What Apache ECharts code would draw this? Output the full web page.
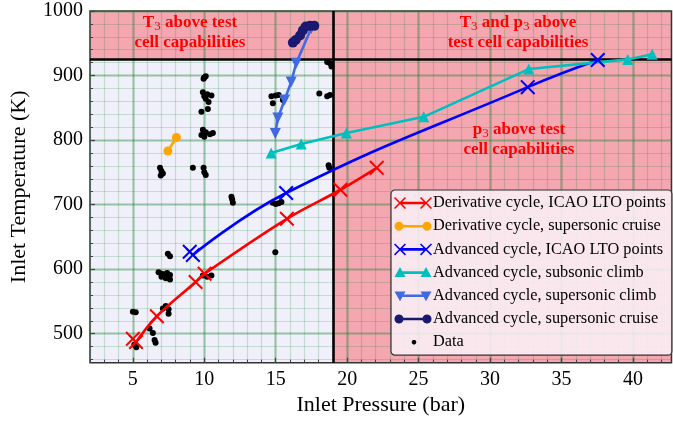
<!DOCTYPE html>
<html><head><meta charset="utf-8">
<script src="https://cdn.jsdelivr.net/npm/echarts@6/dist/echarts.min.js"></script>
<style>html,body{margin:0;padding:0;background:#fff}#c{width:673px;height:423px}</style>
</head><body><div id="c"></div>
<script>
// ---- tick labels ----
const xMajorTicks = [5, 10, 15, 20, 25, 30, 35, 40];
const yMajorTicks = [500, 600, 700, 800, 900, 1000];
// ---- series data (pressure bar, temperature K) ----
// line (curve) points and marker points of the ICAO LTO cycles
const derivLtoP = [5.22, 6.68, 9.39, 10.02, 15.78, 19.53, 22.07];
const derivLtoT = [487, 527, 580, 593, 678, 723, 757];
const derivLtoExtraP = [5.0];
const derivLtoExtraT = [492];
const derivSupP = [7.45, 8.05];
const derivSupT = [783, 804];
const advLtoP = [9.2, 15.73, 32.64, 37.54];
const advLtoT = [622, 718, 882, 924];
const advLtoExtraP = [8.98];
const advLtoExtraT = [627];
const advSubP = [14.68, 16.78, 19.95, 25.36, 32.71, 39.64, 41.35];
const advSubT = [780, 794, 811, 836, 910, 925, 933];
const advSupClimbP = [17.48, 16.43, 16.08, 15.62, 15.15, 14.97];
const advSupClimbT = [973, 919, 890, 862, 834, 810];
const advSupCruiseP = [16.2, 16.4, 16.7, 16.9, 17.1, 17.4, 17.7];
const advSupCruiseT = [951, 955, 962, 970, 976, 977, 977];
const dataP = [10.0,10.1,9.95, 9.9,10.2,10.5,10.1,10.3,10.0, 9.8,10.25, 9.8,10.1,10.4,10.6,10.0,9.9,
  6.9,7.0,7.1,6.95, 9.2, 9.95,10.0,10.1, 11.9,11.95,12.0, 7.45,7.6,
  6.8,7.0,7.2,7.4,7.6,7.0,7.3,7.6, 9.9,10.2,10.5, 5.0,5.2, 7.1,7.3,7.5,7.5,
  6.17,6.4,6.52,6.59, 5.24,5.1, 14.8,15.0,15.2,15.4, 14.97, 18.7,18.75,
  18.6,18.8,18.9, 14.7,15.0,15.2,14.8,15.5, 18.05,18.6,18.8];
const dataT = [897,899,895, 874,871,869,864,859,868, 844,848, 808,812,809,811,805,816,
  757,752,748,745, 757, 757,750,746, 712,708,703, 624,620,
  595,593,592,594,591,588,586,584, 590,588,590, 534,533, 539,543,538,531,
  508,501,490,486, 479,483, 703,701,702,704, 626, 761,757,
  921,919,914, 868,869,870,857,862, 872,868,870];
// ---- axis ranges / thresholds ----
const xRange = [2, 42.7];
const yRange = [455, 1000];
const pLimit = 19;
const tLimit = 925;

const zip = (a, b) => a.map((v, i) => [v, b[i]]);
const range = (a, b, s) => { const r = []; for (let v = a; v <= b + 1e-9; v += s) r.push(v); return r; };
const xMinorTicks = range(2, 42, 1);
const yMinorTicks = range(460, 1000, 20);

const FONT = 'Liberation Serif';
const lav = '#eff0fa', pink = '#f4a6b1';
const gridMinor = 'rgba(30,130,50,0.20)', gridMajor = 'rgba(30,130,50,0.28)';

// --- symbol path helpers ---
function xPoly(cx, cy, h, a) {
  const p = [[cx-h+a,cy-h],[cx,cy-a],[cx+h-a,cy-h],[cx+h,cy-h+a],[cx+a,cy],[cx+h,cy+h-a],
             [cx+h-a,cy+h],[cx,cy+a],[cx-h+a,cy+h],[cx-h,cy+h-a],[cx-a,cy],[cx-h,cy-h+a]];
  return 'M' + p.map(q => q[0].toFixed(2) + ',' + q[1].toFixed(2)).join('L') + 'Z';
}
function circ(cx, cy, r) {
  const p = []; for (let i = 0; i < 20; i++) { const t = i / 20 * Math.PI * 2; p.push([cx + r*Math.cos(t), cy + r*Math.sin(t)]); }
  return 'M' + p.map(q => q[0].toFixed(2) + ',' + q[1].toFixed(2)).join('L') + 'Z';
}
function bar(x1, x2, cy, w) { return `M${x1},${cy-w}L${x2},${cy-w}L${x2},${cy+w}L${x1},${cy+w}Z`; }
function triUp(cx, cy, h) { return `M${cx},${cy-h}L${cx+h},${cy+h*0.8}L${cx-h},${cy+h*0.8}Z`; }
function triDown(cx, cy, h) { return `M${cx-h},${cy-h*0.8}L${cx+h},${cy-h*0.8}L${cx},${cy+h}Z`; }
const corners = 'M0,0L0.01,0L0.01,0.01ZM37.99,13.99L38,13.99L38,14Z';
const XSYM = 'path://' + xPoly(5, 5, 5, 0.95);
const icons = {
  xline: 'path://' + corners + bar(6, 32, 7, 1.3) + xPoly(6, 7, 6, 1.1) + xPoly(32, 7, 6, 1.1),
  cline: 'path://' + corners + bar(5, 33, 7, 1.3) + circ(5, 7, 4.5) + circ(33, 7, 4.5),
  tup: 'path://' + corners + bar(6, 32, 7, 1.3) + triUp(6, 7, 5.5) + triUp(32, 7, 5.5),
  tdown: 'path://' + corners + bar(6, 32, 7, 1.3) + triDown(6, 7, 5.5) + triDown(32, 7, 5.5),
  dot: 'path://' + corners + circ(20, 7, 2.3)
};

const names = ['Derivative cycle, ICAO LTO points', 'Derivative cycle, supersonic cruise',
  'Advanced cycle, ICAO LTO points', 'Advanced cycle, subsonic climb',
  'Advanced cycle, supersonic climb', 'Advanced cycle, supersonic cruise', 'Data'];

function lineSeries(name, color, pts, symbol, size, smooth, width) {
  return { name, type: 'line', data: pts, symbol, symbolSize: size, smooth: smooth || false,
    z: 3, lineStyle: { color, width: width || 2.6 }, itemStyle: { color, borderWidth: 0 },
    emphasis: { disabled: true } };
}
function markerSeries(name, color, pts, symbol, size) {
  return { name, type: 'scatter', data: pts, symbol, symbolSize: size, z: 4,
    itemStyle: { color, borderWidth: 0, opacity: 1 }, emphasis: { disabled: true } };
}

const chart = echarts.init(document.getElementById('c'));
const axisCommon = { type: 'value', axisLine: { show: false }, splitArea: { show: false } };
const numFmt = v => String(v);
chart.setOption({
  animation: false,
  grid: { left: 90, top: 11, width: 581.5, height: 351.7, show: true, borderColor: '#333', borderWidth: 1.5,
          backgroundColor: 'transparent', outerBoundsMode: 'none', containLabel: false },
  xAxis: [
    Object.assign({}, axisCommon, {
      min: xRange[0], max: xRange[1],
      name: 'Inlet Pressure (bar)', nameLocation: 'middle', nameGap: 31,
      nameTextStyle: { fontFamily: FONT, fontSize: 22, color: '#000' },
      axisTick: { show: true, inside: true, length: 5, customValues: xMajorTicks, lineStyle: { color: '#444', width: 1.2 } },
      axisLabel: { customValues: xMajorTicks, formatter: numFmt, fontFamily: FONT, fontSize: 20, color: '#000', margin: 7 },
      splitLine: { show: true, lineStyle: { color: gridMajor, width: 2.6 } }
    }),
    Object.assign({}, axisCommon, {
      min: xRange[0], max: xRange[1], position: 'bottom', offset: 0,
      axisTick: { show: true, inside: true, length: 3, customValues: xMinorTicks, lineStyle: { color: '#444', width: 1 } },
      axisLabel: { show: false },
      splitLine: { show: true, lineStyle: { color: gridMinor, width: 1.2 } }
    })
  ],
  yAxis: [
    Object.assign({}, axisCommon, {
      min: yRange[0], max: yRange[1],
      name: 'Inlet Temperature (K)', nameLocation: 'middle', nameGap: 60,
      nameTextStyle: { fontFamily: FONT, fontSize: 22, color: '#000' },
      axisTick: { show: true, inside: true, length: 5, customValues: yMajorTicks, lineStyle: { color: '#444', width: 1.2 } },
      axisLabel: { customValues: yMajorTicks, formatter: numFmt, fontFamily: FONT, fontSize: 20, color: '#000', margin: 7 },
      splitLine: { show: true, lineStyle: { color: gridMajor, width: 2.6 } }
    }),
    Object.assign({}, axisCommon, {
      min: yRange[0], max: yRange[1], position: 'left', offset: 0,
      axisTick: { show: true, inside: true, length: 3, customValues: yMinorTicks, lineStyle: { color: '#444', width: 1 } },
      axisLabel: { show: false },
      splitLine: { show: true, lineStyle: { color: gridMinor, width: 1.2 } }
    })
  ],
  legend: {
    orient: 'vertical', left: 391, top: 190, padding: [5, 6, 5, 3],
    itemWidth: 38, itemHeight: 14, itemGap: 7.2, selectedMode: false,
    backgroundColor: 'rgba(250,242,248,0.86)', borderColor: '#333', borderWidth: 1.2, borderRadius: 4,
    textStyle: { fontFamily: FONT, fontSize: 16.3, color: '#000', padding: [0, 0, 0, -4] },
    itemStyle: { borderWidth: 0 },
    data: [
      { name: names[0], icon: icons.xline }, { name: names[1], icon: icons.cline },
      { name: names[2], icon: icons.xline }, { name: names[3], icon: icons.tup },
      { name: names[4], icon: icons.tdown }, { name: names[5], icon: icons.cline },
      { name: names[6], icon: icons.dot }
    ]
  },
  graphic: [
    { type: 'text', x: 190, y: 33, z: 10, style: { text: '{b|T}{s|3}{b| above test}\n{b|cell capabilities}',
      align: 'center', verticalAlign: 'middle', rich: richDef() } },
    { type: 'text', x: 518, y: 33, z: 10, style: { text: '{b|T}{s|3}{b| and p}{s|3}{b| above}\n{b|test cell capabilities}',
      align: 'center', verticalAlign: 'middle', rich: richDef() } },
    { type: 'text', x: 519, y: 139.5, z: 10, style: { text: '{b|p}{s|3}{b| above test}\n{b|cell capabilities}',
      align: 'center', verticalAlign: 'middle', rich: richDef() } }
  ],
  series: [
    { type: 'scatter', data: [], z: -1, silent: true,
      markArea: { silent: true, z: -1, data: [
        [{ coord: [xRange[0], yRange[0]], itemStyle: { color: lav } }, { coord: [pLimit, tLimit] }],
        [{ coord: [xRange[0], tLimit], itemStyle: { color: pink } }, { coord: [xRange[1], yRange[1]] }],
        [{ coord: [pLimit, yRange[0]], itemStyle: { color: pink } }, { coord: [xRange[1], tLimit] }]
      ] } },
    { type: 'scatter', data: [], z: 1, silent: true,
      markLine: { silent: true, z: 1, symbol: ['none', 'none'], label: { show: false },
        lineStyle: { color: '#000', width: 2.6, type: 'solid' },
        data: [{ xAxis: pLimit }, { yAxis: tLimit }] } },
    { name: names[6], type: 'scatter', data: zip(dataP, dataT), symbol: 'circle', symbolSize: 6, z: 2,
      itemStyle: { color: '#000', opacity: 1 }, emphasis: { disabled: true } },
    lineSeries(names[0], '#ff0000', zip(derivLtoP, derivLtoT), XSYM, 15, 0.35),
    markerSeries(names[0], '#ff0000', zip(derivLtoExtraP, derivLtoExtraT), XSYM, 15),
    lineSeries(names[1], '#ffa500', zip(derivSupP, derivSupT), 'circle', 9),
    lineSeries(names[2], '#0000ff', zip(advLtoP, advLtoT), XSYM, 15, 0.45),
    markerSeries(names[2], '#0000ff', zip(advLtoExtraP, advLtoExtraT), XSYM, 15),
    lineSeries(names[3], '#00bfbf', zip(advSubP, advSubT), 'triangle', 11),
    lineSeries(names[4], '#4169e1', zip(advSupClimbP, advSupClimbT), 'path://' + triDown(5, 5, 5), 11),
    lineSeries(names[5], '#191970', zip(advSupCruiseP, advSupCruiseT), 'circle', 10, false, 4.5)
  ]
});
function richDef() {
  return {
    b: { fontFamily: FONT, fontWeight: 'bold', fontSize: 17, fill: '#ff0000', color: '#ff0000', lineHeight: 20 },
    s: { fontFamily: FONT, fontSize: 13, fill: '#ff0000', color: '#ff0000', lineHeight: 20, padding: [8, 0, 0, 0] }
  };
}
</script></body></html>
